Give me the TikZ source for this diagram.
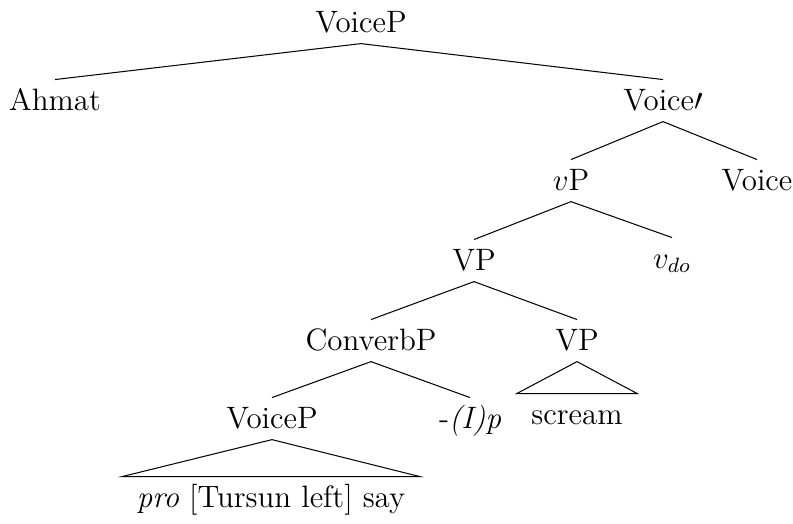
\documentclass[tikz,border=0pt]{standalone}
\usepackage{amsmath,amssymb}
\usepackage{tikz}

\begin{document}
\begin{tikzpicture}[x=0.3876pt,y=-0.3876pt,font=\fontsize{12}{14}\selectfont,
  lbl/.style={anchor=base,inner xsep=1pt,inner ysep=3.1pt,text height=8.5pt,text depth=1.2pt},
  leaf/.style={lbl,inner xsep=5.5pt}]
\useasboundingbox (0,0) rectangle (793,523);
\node[lbl] (voicep) at (361,32) {VoiceP};
\node[lbl] (ahmat) at (55,110) {Ahmat};
\node[lbl] (voicebar) at (663,110) {Voice$\prime$};
\node[lbl] (vp) at (571,190) {$v$P};
\node[lbl] (voice) at (757,190) {Voice};
\node[lbl] (vpbig) at (474,270) {VP};
\node[lbl] (vdo) at (672,268) {$v_{do}$};
\node[lbl] (converbp) at (371,350) {ConverbP};
\node[lbl] (vpsmall) at (577,350) {VP};
\node[leaf] (scream) at (577,424) {scream};
\node[lbl] (voicepi) at (272,428) {VoiceP};
\node[lbl] (affix) at (470,428) {-\textit{(I)p}};
\node[leaf] (prosay) at (271,507) {\textit{pro} [Tursun left] say};
\draw (voicep.south) -- (ahmat.north);
\draw (voicep.south) -- (voicebar.north);
\draw (voicebar.south) -- (vp.north);
\draw (voicebar.south) -- (voice.north);
\draw (vp.south) -- (vpbig.north);
\draw (vp.south) -- (vdo.north);
\draw (vpbig.south) -- (converbp.north);
\draw (vpbig.south) -- (vpsmall.north);
\draw (converbp.south) -- (voicepi.north);
\draw (converbp.south) -- (affix.north);
\draw (vpsmall.south) -- (scream.north west) -- (scream.north east) -- cycle;
\draw (voicepi.south) -- (prosay.north west) -- (prosay.north east) -- cycle;
\end{tikzpicture}
\end{document}
